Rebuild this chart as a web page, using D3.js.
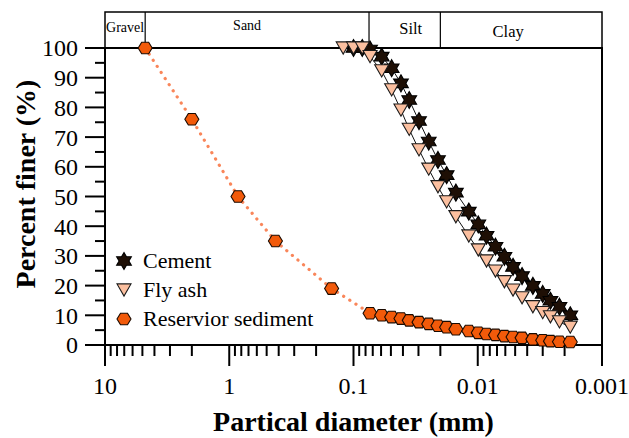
<!DOCTYPE html>
<html>
<head>
<meta charset="utf-8">
<script src="https://cdn.jsdelivr.net/npm/d3@7"></script>
<style>
  html, body { margin: 0; padding: 0; background: #fff; }
  svg { display: block; font-family: "Liberation Serif", "Times New Roman", serif; }
</style>
</head>
<body>
<svg id="chart" width="629" height="438"></svg>
<script>
// Particle size distribution data (diameter in mm, percent finer)
const cementDiameter = [0.1, 0.085, 0.0736, 0.0593, 0.0493, 0.0415, 0.0356, 0.0297, 0.0248, 0.0209,
  0.0178, 0.015, 0.0118, 0.0099, 0.0085, 0.0072, 0.0061, 0.0052, 0.0044, 0.0036, 0.003, 0.0026, 0.0022, 0.0018];
const cementFiner = [100, 100, 99.5, 97.1, 93.2, 88.1, 82.5, 75.4, 68.5, 62.3,
  57.2, 51.3, 44.9, 40.6, 36.8, 33.1, 29.7, 26.3, 23.2, 19.9, 17.2, 14.9, 12.9, 10.0];

const flyAshDiameter = [0.121, 0.1, 0.085, 0.0736, 0.0593, 0.0493, 0.0415, 0.0356, 0.0297, 0.0248, 0.0209,
  0.0178, 0.015, 0.0118, 0.0099, 0.0085, 0.0072, 0.0061, 0.0052, 0.0044, 0.0036, 0.003, 0.0026, 0.0022, 0.0018];
const flyAshFiner = [100, 100, 100, 97.1, 92.3, 85.9, 79.1, 72.6, 65.7, 59.2, 53.3,
  48.2, 43.2, 36.7, 32.0, 28.3, 24.9, 21.3, 18.5, 15.9, 12.9, 10.9, 9.5, 7.8, 6.0];

const sedimentDiameter = [4.75, 2.0, 0.85, 0.425, 0.15, 0.0736, 0.0593, 0.0493, 0.0415, 0.0356, 0.0297,
  0.0248, 0.0209, 0.0178, 0.015, 0.0118, 0.0099, 0.0085, 0.0072, 0.0061, 0.0052, 0.0044, 0.0036, 0.003,
  0.0026, 0.0022, 0.0018];
const sedimentFiner = [100, 76, 50, 35, 19, 10.7, 10.0, 9.4, 8.9, 8.3, 7.7,
  7.1, 6.5, 6.0, 5.3, 4.7, 4.1, 3.7, 3.4, 3.0, 2.7, 2.4, 1.9, 1.6,
  1.3, 1.1, 1.0];

const seriesNames = ["Cement", "Fly ash", "Reservior sediment"];

// Soil classification band: boundaries in mm and labels
const bandBounds = [10, 4.75, 0.075, 0.02, 0.001];
const bandLabels = ["Gravel", "Sand", "Silt", "Clay"];

const xTickValues = [10, 1, 0.1, 0.01, 0.001];
const xTickLabels = ["10", "1", "0.1", "0.01", "0.001"];
const yTickValues = [0, 10, 20, 30, 40, 50, 60, 70, 80, 90, 100];

const svg = d3.select("#chart");
const plotL = 105, plotR = 602, plotT = 48, plotB = 345, bandTop = 12;

const x = d3.scaleLog().domain([10, 0.001]).range([plotL, plotR]);
const y = d3.scaleLinear().domain([0, 100]).range([plotB, plotT]);

// ----- Classification band -----
const band = svg.append("g");
band.append("rect")
  .attr("x", plotL).attr("y", bandTop)
  .attr("width", plotR - plotL).attr("height", plotT - bandTop)
  .attr("fill", "none").attr("stroke", "#000").attr("stroke-width", 1.5);
band.selectAll("line.div")
  .data(bandBounds.slice(1, -1))
  .join("line")
  .attr("x1", d => x(d)).attr("x2", d => x(d))
  .attr("y1", bandTop).attr("y2", plotT)
  .attr("stroke", "#000").attr("stroke-width", 1.2);
// label size, baseline and horizontal nudge from the cell centre
const bandStyle = [
  { size: 14, dy: 32, dx: 0 }, { size: 14, dy: 30, dx: -10 },
  { size: 16.5, dy: 34, dx: 6 }, { size: 16.5, dy: 37, dx: -13 }
];
band.selectAll("text")
  .data(bandLabels)
  .join("text")
  .attr("x", (d, i) => (x(bandBounds[i]) + x(bandBounds[i + 1])) / 2 + bandStyle[i].dx)
  .attr("y", (d, i) => bandStyle[i].dy)
  .attr("text-anchor", "middle")
  .attr("font-size", (d, i) => bandStyle[i].size)
  .text(d => d);

// ----- Axes -----
const yMinor = d3.range(5, 100, 10);
const yAxis = svg.append("g");
yAxis.selectAll("line.major").data(yTickValues).join("line")
  .attr("x1", plotL - 20).attr("x2", plotL)
  .attr("y1", d => y(d)).attr("y2", d => y(d))
  .attr("stroke", "#000").attr("stroke-width", 2);
yAxis.append("g").selectAll("line").data(yMinor).join("line")
  .attr("x1", plotL - 10).attr("x2", plotL)
  .attr("y1", d => y(d)).attr("y2", d => y(d))
  .attr("stroke", "#000").attr("stroke-width", 2);
yAxis.append("g").selectAll("text").data(yTickValues).join("text")
  .attr("x", 78).attr("y", d => y(d))
  .attr("dy", "0.35em")
  .attr("text-anchor", "end")
  .attr("font-size", 24)
  .text(d => d);

const xMinor = [];
[1, 0.1, 0.01, 0.001].forEach(dec => {
  for (let k = 2; k <= 9; k++) xMinor.push(dec * k);
});
const xAxis = svg.append("g");
xAxis.append("g").selectAll("line").data(xTickValues).join("line")
  .attr("x1", d => x(d)).attr("x2", d => x(d))
  .attr("y1", plotB).attr("y2", plotB + 21)
  .attr("stroke", "#000").attr("stroke-width", 2);
xAxis.append("g").selectAll("line").data(xMinor).join("line")
  .attr("x1", d => x(d)).attr("x2", d => x(d))
  .attr("y1", plotB).attr("y2", plotB + 11)
  .attr("stroke", "#000").attr("stroke-width", 2);
xAxis.append("g").selectAll("text").data(xTickValues).join("text")
  .attr("x", d => x(d)).attr("y", 394)
  .attr("text-anchor", "middle")
  .attr("font-size", 24)
  .text((d, i) => xTickLabels[i]);

// Plot frame
svg.append("rect")
  .attr("x", plotL).attr("y", plotT)
  .attr("width", plotR - plotL).attr("height", plotB - plotT)
  .attr("fill", "none").attr("stroke", "#000").attr("stroke-width", 2);

// Axis titles
svg.append("text")
  .attr("x", (plotL + plotR) / 2).attr("y", 431)
  .attr("text-anchor", "middle")
  .attr("font-size", 28).attr("font-weight", "bold")
  .text("Partical diameter (mm)");
svg.append("text")
  .attr("transform", "translate(35,184) rotate(-90)")
  .attr("text-anchor", "middle")
  .attr("font-size", 28).attr("font-weight", "bold")
  .text("Percent finer (%)");

// ----- Marker shapes -----
function hexagram(R) {
  const r = R / Math.sqrt(3);
  const pts = [];
  for (let i = 0; i < 12; i++) {
    const a = -Math.PI / 2 + i * Math.PI / 6;
    const rr = i % 2 === 0 ? R : r;
    pts.push([rr * Math.cos(a), rr * Math.sin(a)]);
  }
  return "M" + pts.map(p => p.join(",")).join("L") + "Z";
}
function downTriangle(w) {
  const h = w * 0.87;
  return `M${-w / 2},${-h / 2}L${w / 2},${-h / 2}L0,${h / 2}Z`;
}
function hexagon(R) {
  const pts = [];
  for (let i = 0; i < 6; i++) {
    const a = i * Math.PI / 3;
    pts.push([R * Math.cos(a), R * 0.95 * Math.sin(a)]);
  }
  return "M" + pts.map(p => p.join(",")).join("L") + "Z";
}

const styles = [
  { path: hexagram(8.5), fill: "#1e0f05", stroke: "#000" },
  { path: downTriangle(14), fill: "#fbbf9f", stroke: "#1a1a1a" },
  { path: hexagon(7), fill: "#f25a0a", stroke: "#1a0a00" }
];

const series = [
  { d: cementDiameter, p: cementFiner },
  { d: flyAshDiameter, p: flyAshFiner },
  { d: sedimentDiameter, p: sedimentFiner }
];

const line = d3.line().x(d => x(d[0])).y(d => y(d[1]));

// Connecting lines
series.forEach((s, i) => {
  const pts = s.d.map((v, j) => [v, s.p[j]]);
  const path = svg.append("path").datum(pts).attr("d", line).attr("fill", "none");
  if (i === 2) {
    path.attr("stroke", "#f9865a").attr("stroke-width", 3.2)
      .attr("stroke-linecap", "round").attr("stroke-dasharray", "0.1,7.2");
  } else {
    path.attr("stroke", "#111").attr("stroke-width", 1);
  }
});

// Markers
series.forEach((s, i) => {
  const pts = s.d.map((v, j) => [v, s.p[j]]);
  svg.append("g").selectAll("path").data(pts).join("path")
    .attr("transform", d => `translate(${x(d[0])},${y(d[1])})`)
    .attr("d", styles[i].path)
    .attr("fill", styles[i].fill)
    .attr("stroke", styles[i].stroke)
    .attr("stroke-width", 1.1);
});

// ----- Legend -----
const legendRows = [261, 290, 319];
const legend = svg.append("g");
seriesNames.forEach((name, i) => {
  legend.append("path")
    .attr("transform", `translate(124,${legendRows[i]})`)
    .attr("d", styles[i].path)
    .attr("fill", styles[i].fill)
    .attr("stroke", styles[i].stroke)
    .attr("stroke-width", 1.1);
  legend.append("text")
    .attr("x", 143).attr("y", legendRows[i] + 7)
    .attr("font-size", 22)
    .text(name);
});
</script>
</body>
</html>
